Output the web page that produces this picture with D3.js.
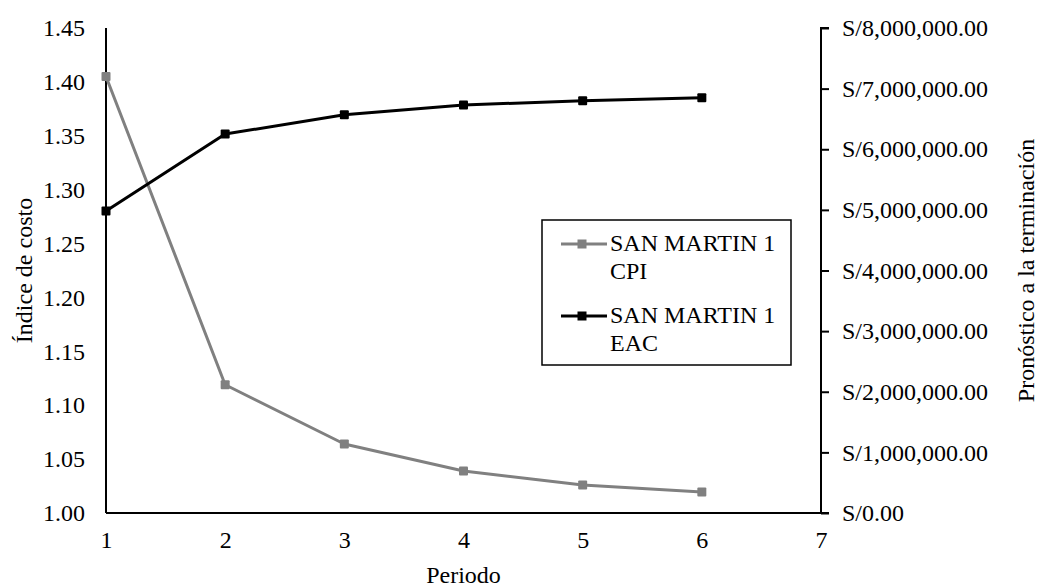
<!DOCTYPE html>
<html>
<head>
<meta charset="utf-8">
<script src="https://cdn.jsdelivr.net/npm/d3@7"></script>
<style>
  body { margin: 0; background: #fff; }
  svg { display: block; }
  text { font-family: "Liberation Serif", "Times New Roman", serif; fill: #000; }
</style>
</head>
<body>
<svg id="chart" width="1041" height="587"></svg>
<script>
// Periods and the two series (cost index on the left axis, EAC on the right axis)
const periods = [1, 2, 3, 4, 5, 6];
const cpiValues = [1.405, 1.119, 1.064, 1.039, 1.026, 1.0195];
const eacValues = [4980000, 6250000, 6570000, 6730000, 6800000, 6850000];
const leftTicks = [1.00, 1.05, 1.10, 1.15, 1.20, 1.25, 1.30, 1.35, 1.40, 1.45];
const rightTicks = [0, 1000000, 2000000, 3000000, 4000000, 5000000, 6000000, 7000000, 8000000];
const xTicks = [1, 2, 3, 4, 5, 6, 7];
const seriesNames = [["SAN MARTIN 1", "CPI"], ["SAN MARTIN 1", "EAC"]];
const seriesColors = ["#808080", "#000000"];

const svg = d3.select("#chart");
const fontSize = 24;

const x = d3.scaleLinear().domain([1, 7]).range([106, 821]);
const yL = d3.scaleLinear().domain([1.00, 1.45]).range([513, 28]);
const yR = d3.scaleLinear().domain([0, 8000000]).range([513, 28]);

const fmtMoney = v => "S/" + d3.format(",.2f")(v);

// Left axis
const gL = svg.append("g").attr("transform", `translate(${x(1)},0)`)
  .call(d3.axisLeft(yL).tickValues(leftTicks).tickFormat(d3.format(".2f")).tickSize(0).tickPadding(21));
// Right axis
const gR = svg.append("g").attr("transform", `translate(${x(7)},0)`)
  .call(d3.axisRight(yR).tickValues(rightTicks).tickFormat(fmtMoney).tickSize(8).tickPadding(13));
// Bottom axis
const gB = svg.append("g").attr("transform", `translate(0,${yL(1.00)})`)
  .call(d3.axisBottom(x).tickValues(xTicks).tickFormat(d3.format("d")).tickSize(0).tickPadding(0));

[gL, gR, gB].forEach(g => {
  g.attr("font-family", null);
  g.select(".domain").attr("stroke", "#000").attr("stroke-width", 2);
  g.selectAll(".tick line").attr("stroke", "#000").attr("stroke-width", 2);
  g.selectAll("text").style("font-size", fontSize + "px").attr("fill", "#000");
});
gL.select(".domain").attr("d", `M0,${yL(1.45)}V${yL(1.00)}`);
gR.select(".domain").attr("d", `M8,${yR(8000000)}H0V${yR(0)}H8`);
gB.select(".domain").attr("d", `M${x(1)},0H${x(7)}`);
gB.selectAll("text").attr("y", 35).attr("dy", null);

// Lines
const lineCpi = d3.line().x((d, i) => x(periods[i])).y(d => yL(d));
const lineEac = d3.line().x((d, i) => x(periods[i])).y(d => yR(d));

svg.append("path").datum(cpiValues).attr("d", lineCpi)
  .attr("fill", "none").attr("stroke", seriesColors[0]).attr("stroke-width", 3).attr("stroke-linejoin", "round");
svg.append("path").datum(eacValues).attr("d", lineEac)
  .attr("fill", "none").attr("stroke", seriesColors[1]).attr("stroke-width", 3).attr("stroke-linejoin", "round");

const m = 9;
svg.append("g").selectAll("rect").data(cpiValues).join("rect")
  .attr("x", (d, i) => x(periods[i]) - m / 2).attr("y", d => yL(d) - m / 2)
  .attr("width", m).attr("height", m).attr("rx", 1).attr("fill", seriesColors[0]);
svg.append("g").selectAll("rect").data(eacValues).join("rect")
  .attr("x", (d, i) => x(periods[i]) - m / 2).attr("y", d => yR(d) - m / 2)
  .attr("width", m).attr("height", m).attr("rx", 1).attr("fill", seriesColors[1]);

// Axis titles
svg.append("text").attr("transform", `translate(32,${(yL(1.45) + yL(1.00)) / 2}) rotate(-90)`)
  .attr("text-anchor", "middle").style("font-size", fontSize + "px").text("Índice de costo");
svg.append("text").attr("x", (x(1) + x(7)) / 2).attr("y", 583)
  .attr("text-anchor", "middle").style("font-size", fontSize + "px").text("Periodo");
svg.append("text").attr("transform", `translate(1034,${(yL(1.45) + yL(1.00)) / 2}) rotate(-90)`)
  .attr("text-anchor", "middle").style("font-size", fontSize + "px").text("Pronóstico a la terminación");

// Legend
const legend = svg.append("g");
legend.append("rect").attr("x", 542).attr("y", 220).attr("width", 249).attr("height", 145)
  .attr("fill", "#fff").attr("stroke", "#000").attr("stroke-width", 1.5);
seriesNames.forEach((name, i) => {
  const baseY = 251 + i * 72;
  const cy = baseY - 7;
  legend.append("line").attr("x1", 561).attr("x2", 607).attr("y1", cy).attr("y2", cy)
    .attr("stroke", seriesColors[i]).attr("stroke-width", 3);
  legend.append("rect").attr("x", 582 - m / 2).attr("y", cy - m / 2).attr("width", m).attr("height", m)
    .attr("fill", seriesColors[i]);
  name.forEach((line, j) => {
    legend.append("text").attr("x", 610).attr("y", baseY + j * 28)
      .style("font-size", fontSize + "px").text(line);
  });
});
</script>
</body>
</html>
